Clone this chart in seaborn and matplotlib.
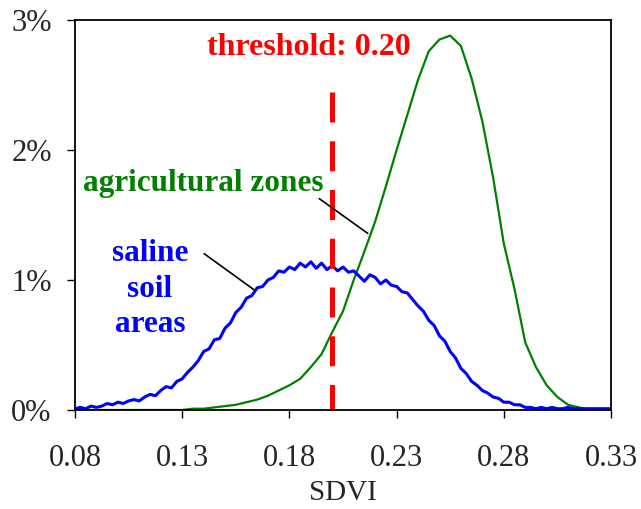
import numpy as np
import pandas as pd
import matplotlib
matplotlib.use("Agg")
import matplotlib.pyplot as plt
import seaborn as sns

# ---- data (percent) ----
x_start = 0.08
blue_step = 0.0025
saline_soil = [0.01, 0.02, 0.01, 0.03, 0.02, 0.03, 0.05, 0.04, 0.06, 0.05,
               0.07, 0.08, 0.07, 0.10, 0.12, 0.11, 0.15, 0.18, 0.17, 0.22,
               0.24, 0.29, 0.33, 0.38, 0.45, 0.47, 0.54, 0.55, 0.63, 0.67,
               0.75, 0.79, 0.86, 0.88, 0.94, 0.95, 1.00, 1.02, 1.07, 1.06,
               1.10, 1.08, 1.13, 1.10, 1.14, 1.09, 1.13, 1.08, 1.11, 1.07,
               1.10, 1.06, 1.07, 1.03, 0.99, 1.04, 1.02, 0.97, 1.00, 0.96,
               0.95, 0.91, 0.90, 0.85, 0.80, 0.76, 0.69, 0.65, 0.57, 0.53,
               0.45, 0.40, 0.32, 0.28, 0.22, 0.19, 0.15, 0.13, 0.10, 0.09,
               0.06, 0.06, 0.04, 0.04, 0.02, 0.02, 0.01, 0.02, 0.01, 0.02,
               0.01, 0.01, 0.02, 0.01, 0.01, 0.01, 0.01, 0.01, 0.01, 0.01,
               0.01]
green_step = 0.005
agricultural = [0, 0, 0, 0, 0, 0, 0, 0, 0, 0,
                0.00, 0.01, 0.01, 0.02, 0.03, 0.04, 0.06, 0.08, 0.11, 0.15,
                0.19, 0.24, 0.33, 0.43, 0.60, 0.76, 1.00, 1.22, 1.45, 1.72,
                2.00, 2.27, 2.54, 2.76, 2.85, 2.88, 2.80, 2.55, 2.22, 1.79,
                1.28, 0.93, 0.52, 0.33, 0.19, 0.10, 0.04, 0.02, 0.00]

threshold = 0.20
threshold_top = 2.45
x_ticks = [0.08, 0.13, 0.18, 0.23, 0.28, 0.33]
y_ticks = [0, 1, 2, 3]

df_blue = pd.DataFrame({"SDVI": x_start + blue_step * np.arange(len(saline_soil)),
                        "pct": saline_soil})
df_green = pd.DataFrame({"SDVI": x_start + green_step * np.arange(len(agricultural)),
                         "pct": agricultural})

sns.set_style("white")
plt.rcParams["font.family"] = ["Liberation Serif", "DejaVu Serif"]

fig = plt.figure(figsize=(6.41, 5.09), dpi=100)
ax = fig.add_axes([75 / 641, 99 / 509, 536 / 641, 390 / 509])

sns.lineplot(data=df_green, x="SDVI", y="pct", ax=ax, color="#008000", lw=1.6)
sns.lineplot(data=df_blue, x="SDVI", y="pct", ax=ax, color="#0000FF", lw=2.2)
ax.plot([threshold, threshold], [threshold_top, 0], color="#FF0000", lw=3.6,
        linestyle=(0, (6.0, 3.75)))

ax.set_xlim(0.08, 0.33)
ax.set_ylim(0, 3)
ax.set_xticks(x_ticks)
ax.set_xticklabels([f"{v:.2f}" for v in x_ticks])
ax.set_yticks(y_ticks)
ax.set_yticklabels([f"{v}%" for v in y_ticks])
ax.set_xlabel("SDVI", fontsize=21, labelpad=5)
ax.set_ylabel("")
ax.tick_params(axis="both", labelsize=22, direction="out", length=5.8, width=1,
               color="black", left=True, bottom=True)
ax.tick_params(axis="x", pad=19)
ax.tick_params(axis="y", pad=11)
for s in ax.spines.values():
    s.set_color("black")
    s.set_linewidth(1.3)

bold = dict(fontweight="bold")
ax.text(0.189, 2.785, "threshold: 0.20", color="#FF0000", ha="center", va="center",
        fontsize=23, **bold)
ax.text(0.140, 1.74, "agricultural zones", color="#008000", ha="center", va="center",
        fontsize=22.5, **bold)
ax.text(0.115, 0.93, "saline\nsoil\nareas", color="#0000FF", ha="center", va="center",
        fontsize=22.5, linespacing=1.3, **bold)
ax.annotate("", xy=(0.1649, 0.908), xytext=(0.1392, 1.215),
            arrowprops=dict(arrowstyle="-", color="black", lw=1.2))
ax.annotate("", xy=(0.2176, 1.346), xytext=(0.1929, 1.638),
            arrowprops=dict(arrowstyle="-", color="black", lw=1.2))

fig.savefig("out.png", dpi=100)
